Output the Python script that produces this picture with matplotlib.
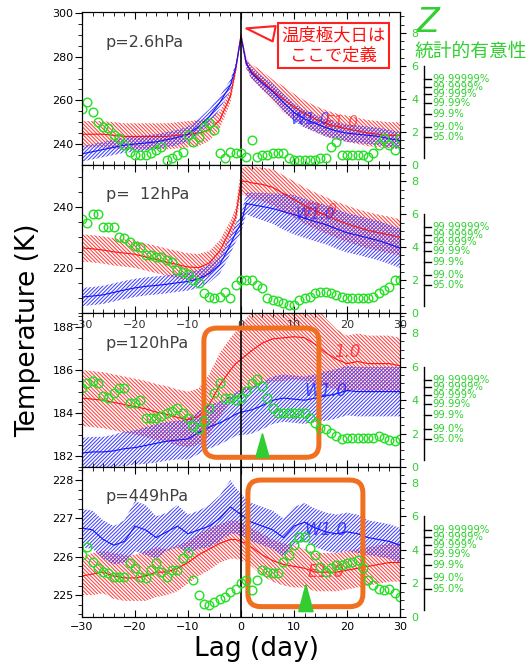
import numpy as np
import matplotlib
matplotlib.use('Agg')
import matplotlib.pyplot as plt
from matplotlib.patches import FancyBboxPatch
from matplotlib.transforms import IdentityTransform, blended_transform_factory
from matplotlib.ticker import MultipleLocator

plt.rcParams['font.family'] = ['DejaVu Sans', 'Noto Sans CJK JP']
plt.rcParams['hatch.linewidth'] = 0.75

# lag axis (day)
lag_day = list(range(-30, 31))
lag_line = [-30, -28, -26, -24, -22, -20, -18, -16, -14, -12, -10, -8, -6, -4, -2, -1,
            0, 1, 2, 4, 6, 8, 10, 12, 14, 16, 18, 20, 22, 24, 26, 28, 30]

# ---- p = 2.6 hPa
p1_red = [244.5, 244.5, 244.5, 244, 243.5, 243.5, 243.5, 243.5, 243.5, 244, 244.5, 245, 246.5, 251, 262, 274,
          290, 277, 273, 269, 264.5, 260.5, 257, 254, 251.5, 249.5, 248, 247, 246, 245, 244.5, 244, 244]
p1_red_hw = [6, 6, 6, 6, 6, 6, 6, 6, 6, 6, 6, 6, 5, 4, 3, 2,
             1.5, 2.5, 3.5, 4.5, 5, 6, 6, 6, 6, 6, 6, 6, 6, 6, 6, 6, 6]
p1_blue = [235.5, 236.5, 237.5, 238.5, 239.5, 240, 240.5, 241, 242, 243, 244.5, 248, 252.5, 259, 267, 275,
           289, 277, 272.5, 268, 264, 259, 254.5, 251.5, 249.5, 247.5, 246, 245, 244.5, 244, 243.5, 242.5, 241.5]
p1_blue_hw = [3.5, 3.5, 3.5, 3.5, 3.5, 3.5, 3.5, 3.5, 3.5, 3.5, 3.5, 3.5, 3.5, 3, 2.5, 2,
              1.5, 2, 2.5, 3, 3.5, 4, 4, 4, 4, 4, 4, 4, 4, 4, 4, 4, 4]
p1_z = [3.4, 3.8, 3.2, 2.6, 2.3, 2.25, 1.8, 1.65, 1.2, 0.8, 0.6, 0.6, 0.6, 0.75, 0.9, 1.1, 0.3, 0.45, 0.6, 0.8,
        1.8, 1.4, 1.7, 2.3, 2.55, 2.1, 0.75, 0.45, 0.8, 0.75, 0.75, 0.5, 1.5, 0.5, 0.6, 0.6, 0.7, 0.75, 0.75, 0.45,
        0.3, 0.3, 0.3, 0.3, 0.3, 0.4, 0.45, 1.1, 1.4, 0.6, 0.6, 0.6, 0.6, 0.6, 0.5, 0.7, 1.2, 1.65, 1.2, 0.9, 1.65]

# ---- p = 12 hPa
p2_red = [226.5, 226.2, 225.8, 225.2, 224.8, 224.4, 223.5, 222.7, 221.8, 221, 220.2, 220, 221.5, 225.5, 232.5, 236.7,
          248.5, 248.5, 248, 247.5, 246.5, 244.5, 242.5, 240.5, 238.8, 237.3, 235.8, 234.5, 233.3, 232.3, 231.5, 230.8, 230]
p2_red_hw = [4.5, 4.5, 4.5, 4.5, 4.5, 4.5, 4.5, 4.5, 4.5, 4.5, 4.5, 4.5, 4, 3.5, 3, 3,
             4, 5, 5.5, 5.5, 6, 6, 6, 6, 6, 6, 6, 6, 6, 6, 6, 6, 6]
p2_blue = [210.3, 210.6, 211, 211.8, 212.6, 213.3, 213.8, 214.1, 214.5, 215, 215.4, 216.3, 218, 221, 227.6, 231.5,
           234.5, 241.2, 240.8, 240.2, 239.5, 238.5, 237.5, 236.3, 235.2, 234.2, 232.8, 231.5, 230.7, 229.8, 228.9, 227.7, 226.4]
p2_blue_hw = [3, 3, 3, 3, 3, 3, 3, 3, 3, 3, 3, 3, 3, 3, 3, 3,
              3, 3.5, 4, 4.5, 5, 6, 6.5, 6.5, 6.5, 6.5, 6.5, 6.5, 6.5, 6.5, 6.5, 6.5, 6.5]
p2_z = [5.7, 5.5, 6.0, 6.0, 5.2, 5.2, 5.2, 4.6, 4.55, 4.3, 4.1, 4.0, 3.5, 3.5, 3.4, 3.4, 3.2, 3.1, 2.6, 2.5,
        2.4, 2.0, 1.8, 1.2, 1.0, 0.9, 1.0, 1.3, 0.9, 1.7, 2.0, 2.0, 2.0, 1.7, 1.5, 0.9, 0.8, 0.7, 0.6, 0.5,
        0.5, 0.8, 0.9, 1.0, 1.2, 1.3, 1.3, 1.2, 1.1, 1.0, 0.9, 0.9, 0.9, 0.9, 0.9, 1.0, 1.2, 1.4, 1.6, 2.0, 2.0]

# ---- p = 120 hPa
p3_red = [184.7, 184.65, 184.6, 184.5, 184.4, 184.3, 184.2, 184.05, 183.95, 183.8, 183.7, 183.85, 184.4, 185.3, 186.0, 186.3,
          186.5, 186.7, 186.9, 187.25, 187.45, 187.5, 187.55, 187.5, 187.2, 186.8, 186.5, 186.3, 186.4, 186.3, 186.3, 186.3, 186.2]
p3_red_hw = [1.3, 1.3, 1.3, 1.3, 1.3, 1.3, 1.3, 1.3, 1.3, 1.3, 1.3, 1.3, 1.4, 1.5, 1.5, 1.5,
             1.6, 1.7, 1.8, 1.9, 2.0, 2.0, 2.0, 2.0, 1.8, 1.6, 1.4, 1.3, 1.3, 1.3, 1.3, 1.3, 1.3]
p3_blue = [182.15, 182.2, 182.2, 182.25, 182.35, 182.4, 182.5, 182.6, 182.7, 182.75, 182.8, 183.1, 183.35, 183.55, 183.8, 183.95,
           184.05, 184.1, 184.15, 184.35, 184.6, 184.7, 184.65, 184.6, 184.7, 184.8, 184.9, 185.05, 185.0, 185.0, 185.0, 185.0, 185.0]
p3_blue_hw = [0.7, 0.7, 0.7, 0.75, 0.8, 0.8, 0.85, 0.9, 0.9, 0.9, 0.95, 1.0, 1.0, 1.0, 1.0, 1.0,
              1.05, 1.1, 1.1, 1.1, 1.1, 1.1, 1.1, 1.1, 1.1, 1.15, 1.15, 1.15, 1.15, 1.15, 1.15, 1.15, 1.15]
p3_z = [4.7, 5.0, 5.15, 5.0, 4.25, 4.1, 4.4, 4.7, 4.7, 3.8, 3.8, 4.0, 2.9, 2.9, 2.9, 3.05, 3.2, 3.35, 3.5, 3.2,
        2.95, 2.45, 2.3, 2.75, 3.5, 4.4, 5.0, 4.1, 4.1, 4.0, 4.1, 4.55, 5.0, 5.25, 4.85, 4.1, 3.5, 3.2, 3.25, 3.25,
        3.25, 3.25, 3.25, 2.9, 2.6, 2.35, 2.3, 2.05, 1.85, 1.65, 1.75, 1.75, 1.75, 1.75, 1.75, 1.75, 1.85, 1.75, 1.6, 1.55, 1.65]

# ---- p = 449 hPa
p4_red = [225.5, 225.55, 225.6, 225.5, 225.45, 225.45, 225.5, 225.6, 225.6, 225.7, 225.85, 226.05, 226.2, 226.35, 226.45, 226.45,
          226.4, 226.35, 226.25, 226.05, 225.9, 225.8, 225.75, 225.7, 225.6, 225.6, 225.6, 225.65, 225.7, 225.75, 225.8, 225.85, 225.85]
p4_red_hw = [0.5, 0.55, 0.55, 0.6, 0.6, 0.6, 0.65, 0.65, 0.6, 0.6, 0.55, 0.55, 0.55, 0.5, 0.5, 0.5,
             0.5, 0.5, 0.5, 0.55, 0.55, 0.55, 0.55, 0.5, 0.5, 0.5, 0.5, 0.5, 0.5, 0.5, 0.5, 0.5, 0.5]
p4_blue = [226.75, 226.7, 226.45, 226.3, 226.4, 226.8, 226.7, 226.5, 226.65, 226.8, 226.6, 226.7, 226.8, 227.0, 227.3, 227.2,
           227.1, 227.0, 226.9, 226.8, 226.7, 226.5, 226.8, 226.9, 226.75, 226.65, 226.6, 226.65, 226.6, 226.5, 226.45, 226.4, 226.3]
p4_blue_hw = [0.5, 0.5, 0.5, 0.5, 0.55, 0.65, 0.65, 0.55, 0.5, 0.55, 0.5, 0.5, 0.55, 0.6, 0.7, 0.6,
              0.55, 0.5, 0.5, 0.5, 0.5, 0.5, 0.5, 0.5, 0.5, 0.5, 0.5, 0.5, 0.5, 0.45, 0.45, 0.45, 0.45]
p4_z = [3.7, 4.15, 3.3, 2.9, 2.7, 2.6, 2.4, 2.4, 2.4, 3.2, 2.9, 2.4, 2.3, 2.8, 3.2, 2.7, 2.4, 2.8, 2.8, 3.5,
        3.8, 2.2, 1.3, 0.8, 0.7, 0.9, 1.1, 1.2, 1.5, 1.7, 2.0, 2.2, 1.6, 2.2, 2.8, 2.7, 2.6, 2.6, 3.3, 3.7,
        4.3, 4.8, 4.8, 4.1, 3.7, 3.0, 2.7, 2.9, 3.1, 3.1, 3.2, 3.3, 3.4, 2.9, 2.2, 1.9, 1.7, 1.6, 1.7, 1.45, 1.2]

# significance scale (Z value -> confidence)
sig_z = [1.7, 2.3, 3.1, 3.75, 4.3, 4.75, 5.2]
sig_labels = ['95.0%', '99.0%', '99.9%', '99.99%', '99.999%', '99.9999%', '99.99999%']

panels = [
    dict(label='p=2.6hPa', red=p1_red, red_hw=p1_red_hw, blue=p1_blue, blue_hw=p1_blue_hw, z=p1_z,
         px=(12, 165), ylim=(230.4, 300.5), zmax=9.27, major=20, minor=5),
    dict(label='p=  12hPa', red=p2_red, red_hw=p2_red_hw, blue=p2_blue, blue_hw=p2_blue_hw, z=p2_z,
         px=(165, 313), ylim=(205.0, 253.9), zmax=9.0, major=20, minor=5),
    dict(label='p=120hPa', red=p3_red, red_hw=p3_red_hw, blue=p3_blue, blue_hw=p3_blue_hw, z=p3_z,
         px=(313, 467), ylim=(181.5, 188.65), zmax=9.2, major=2, minor=0.5),
    dict(label='p=449hPa', red=p4_red, red_hw=p4_red_hw, blue=p4_blue, blue_hw=p4_blue_hw, z=p4_z,
         px=(467, 617), ylim=(224.43, 228.34), zmax=8.95, major=1, minor=0.25),
]

W, H = 530, 671
green = '#22e022'
green_txt = '#30d030'
orange = '#f07020'

fig = plt.figure(figsize=(W / 100, H / 100), dpi=100)
axes = []
for i, p in enumerate(panels):
    top, bot = p['px']
    ax = fig.add_axes([82 / W, 1 - bot / H, 318 / W, (bot - top) / H])
    red = np.array(p['red'])
    rhw = np.array(p['red_hw'])
    blue = np.array(p['blue'])
    bhw = np.array(p['blue_hw'])
    ax.fill_between(lag_line, red - rhw, red + rhw, facecolor='none', edgecolor='#ff4040',
                    hatch='\\' * 9, linewidth=0)
    ax.fill_between(lag_line, blue - bhw, blue + bhw, facecolor='none', edgecolor='#4040ff',
                    hatch='/' * 9, linewidth=0)
    ax.plot(lag_line, red, color='#ff1010', lw=0.8)
    ax.plot(lag_line, blue, color='#1010ff', lw=0.8)
    ax.axvline(0, color='black', lw=1.2)
    ax.set_xlim(-30, 30)
    ax.set_ylim(*p['ylim'])
    ax.xaxis.set_major_locator(MultipleLocator(10))
    ax.xaxis.set_minor_locator(MultipleLocator(2))
    ax.yaxis.set_major_locator(MultipleLocator(p['major']))
    ax.yaxis.set_minor_locator(MultipleLocator(p['minor']))
    ax.tick_params(axis='x', which='both', direction='in', top=True, bottom=True, labelsize=8)
    ax.tick_params(axis='x', which='major', length=5)
    ax.tick_params(axis='x', which='minor', length=3)
    ax.tick_params(axis='y', which='major', direction='out', length=5, labelsize=8, pad=1)
    ax.tick_params(axis='y', which='minor', direction='out', length=3)
    if i < 3:
        ax.tick_params(axis='x', labelbottom=False)
    ax.text(0.075, 0.8, p['label'], transform=ax.transAxes, fontsize=11.5, color='#404040', va='center')

    ax2 = ax.twinx()
    ax2.plot(lag_day, p['z'], 'o', mfc='none', mec=green, ms=6.2, mew=1.0)
    ax2.set_ylim(0, p['zmax'])
    ax2.yaxis.set_major_locator(MultipleLocator(2))
    ax2.yaxis.set_minor_locator(MultipleLocator(0.5))
    ax2.tick_params(axis='y', which='major', direction='out', length=4, labelsize=8,
                    labelcolor=green_txt, pad=4)
    ax2.tick_params(axis='y', which='minor', direction='out', length=3)

    # significance scale
    tr = blended_transform_factory(ax2.transAxes, ax2.transData)
    ax2.plot([1.0755, 1.0755], [0.4, 6.0], transform=tr, color='black', lw=1, clip_on=False)
    for z, lab in zip(sig_z, sig_labels):
        ax2.plot([1.0755, 1.097], [z, z], transform=tr, color='black', lw=1, clip_on=False)
        ax2.text(1.103, z, lab, transform=tr, color=green_txt, fontsize=7.2, va='center')
    axes.append((ax, ax2))

ax1, ax1z = axes[0]
ax2_, ax2z = axes[1]
ax3, ax3z = axes[2]
ax4, ax4z = axes[3]

# overlapped tick labels at top of panel 3
tr3 = blended_transform_factory(ax3.transData, ax3.transAxes)
for t in [-30, -20, -10, 0, 10, 20, 30]:
    ax3.text(t, 0.925, str(t).replace('-', '\u2212'), transform=tr3, fontsize=8, ha='center', va='center',
             color='#303030')

# series tags
ax1.text(13, 249, 'W1.0', color='#2020ff', fontsize=11, style='italic', alpha=0.7, ha='center')
ax1.text(19, 248, 'E1.0', color='#ff2020', fontsize=11, style='italic', alpha=0.7, ha='center')
ax2_.text(14, 236, 'W1.0', color='#2020ff', fontsize=11, style='italic', alpha=0.7, ha='center')
ax2_.text(15, 237.5, 'E1.0', color='#ff2020', fontsize=11, style='italic', alpha=0.7, ha='center')
ax3.text(20, 186.6, '1.0', color='#ff2020', fontsize=12, style='italic', alpha=0.8, ha='center')
ax3.text(16, 184.8, 'W1.0', color='#2020ff', fontsize=12, style='italic', alpha=0.8, ha='center')
ax4.text(16, 226.7, 'W1.0', color='#2020ff', fontsize=12, style='italic', alpha=0.8, ha='center', va='center')
ax4.text(16, 225.6, 'E1.0', color='#ff2020', fontsize=12, style='italic', alpha=0.8, ha='center', va='center')

# callout
ax1.annotate('温度極大日は\nここで定義', xy=(1.0, 293), xytext=(17.4, 285.3), textcoords='data',
             ha='center', va='center', fontsize=12.5, color='#ff1010', family=['Noto Sans CJK JP'],
             linespacing=1.15,
             bbox=dict(boxstyle='square,pad=0.2', fc='white', ec='#ff2020', lw=1.5),
             arrowprops=dict(arrowstyle='wedge,tail_width=0.9,shrink_factor=0.5', fc='white',
                             ec='#ff2020', lw=1.5, shrinkB=0))

# orange highlight boxes and green markers
hl_boxes = [(ax3, (-7.0, 14.7), (181.95, 187.95)), (ax4, (1.3, 23.0), (224.7, 228.0))]
for ax, (x0, x1), (y0, y1) in hl_boxes:
    (dx0, dy0) = ax.transData.transform((x0, y0))
    (dx1, dy1) = ax.transData.transform((x1, y1))
    box = FancyBboxPatch((dx0, dy0), dx1 - dx0, dy1 - dy0, boxstyle='round,pad=0,rounding_size=13',
                         transform=IdentityTransform(), fill=False, ec=orange, lw=3.6, zorder=6)
    ax.add_patch(box)
    box.set_clip_on(False)

ax3.fill([2.8, 5.3, 4.05], [181.95, 181.95, 183.05], color='#33cc33', zorder=7, clip_on=False)
ax4.fill([10.9, 13.6, 12.25], [224.57, 224.57, 225.27], color='#33cc33', zorder=7, clip_on=False)
ax3.set_ylim(*panels[2]['ylim'])
ax4.set_ylim(*panels[3]['ylim'])

# figure labels
fig.text(428 / W, 1 - 22 / H, 'Z', color=green_txt, fontsize=24, style='italic', ha='center', va='center')
fig.text(471 / W, 1 - 51 / H, '統計的有意性', color=green_txt, fontsize=13.5, ha='center', va='center',
         family=['Noto Sans CJK JP'])
fig.text(28 / W, 1 - 330 / H, 'Temperature (K)', rotation=90, fontsize=19, ha='center', va='center')
fig.text(256 / W, 1 - 649 / H, 'Lag (day)', fontsize=19, ha='center', va='center')

fig.savefig('out.png', dpi=100)
